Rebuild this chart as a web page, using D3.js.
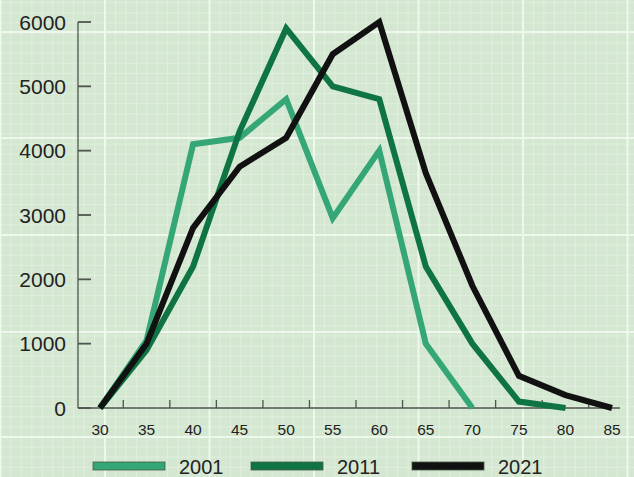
<!DOCTYPE html>
<html>
<head>
<meta charset="utf-8">
<script src="https://cdn.jsdelivr.net/npm/d3@7"></script>
<style>
  body { margin: 0; background: #d4e7d1; }
  svg { display: block; font-family: "Liberation Sans", Arial, sans-serif; }
</style>
</head>
<body>
<svg id="chart" width="634" height="477"></svg>
<script>
// data
let ages = [30, 35, 40, 45, 50, 55, 60, 65, 70, 75, 80, 85];
let y_ticks = [0, 1000, 2000, 3000, 4000, 5000, 6000];
let years = ["2001", "2011", "2021"];
let s2001 = [0, 1050, 4100, 4200, 4800, 2950, 4000, 1000, 0];
let s2011 = [0, 900, 2200, 4300, 5900, 5000, 4800, 2200, 1000, 100, 0];
let s2021 = [0, 1000, 2800, 3750, 4200, 5500, 6000, 3650, 1900, 500, 200, 0];
let colors = ["#35a676", "#0e7443", "#111111"];

let svg = d3.select("#chart");
let W = 634, H = 477;

let x = d3.scaleLinear().domain([30, 85]).range([100, 612]),
    y = d3.scaleLinear().domain([0, 6000]).range([408, 22]);

// graph-paper background
let bg = svg.append("g");
bg.append("rect").attr("width", W).attr("height", H).attr("fill", "#d4e7d1");
for (let gx = 105 - 104.5; gx < W; gx += 10.45) {
    bg.append("line").attr("x1", gx).attr("x2", gx).attr("y1", 0).attr("y2", H)
        .attr("stroke", "#e0eede").attr("stroke-width", 1);
}
for (let gy = 32 - 100; gy < H; gy += 10.1) {
    bg.append("line").attr("y1", gy).attr("y2", gy).attr("x1", 0).attr("x2", W)
        .attr("stroke", "#e0eede").attr("stroke-width", 1);
}
for (let gx = 105 - 104.5; gx < W; gx += 104.5) {
    bg.append("line").attr("x1", gx).attr("x2", gx).attr("y1", 0).attr("y2", H)
        .attr("stroke", "#eef8ec").attr("stroke-width", 2);
}
[32, 138, 235, 332, 437].forEach((gy) => {
    bg.append("line").attr("y1", gy).attr("y2", gy).attr("x1", 0).attr("x2", W)
        .attr("stroke", "#eef8ec").attr("stroke-width", 2);
});

// axes
let axis_color = "#4e554e";
svg.append("line").attr("x1", 78).attr("x2", 78).attr("y1", y(6000)).attr("y2", y(0))
    .attr("stroke", axis_color).attr("stroke-width", 1.3);
svg.append("line").attr("x1", 78).attr("x2", 620).attr("y1", y(0)).attr("y2", y(0))
    .attr("stroke", axis_color).attr("stroke-width", 1.3);

svg.selectAll("line.ytick").data(y_ticks).enter().append("line")
    .attr("x1", 78).attr("x2", 91)
    .attr("y1", (d) => y(d)).attr("y2", (d) => y(d))
    .attr("stroke", axis_color).attr("stroke-width", 1.8);

svg.selectAll("text.ylab").data(y_ticks).enter().append("text")
    .attr("x", 66).attr("y", (d) => y(d)).attr("dy", "0.36em")
    .attr("text-anchor", "end").attr("font-size", 21).attr("fill", "#222")
    .text((d) => d);

// x ticks sit between the labels
svg.selectAll("line.xtick").data(ages.slice(0, -1)).enter().append("line")
    .attr("x1", (d) => x(d + 2.5)).attr("x2", (d) => x(d + 2.5))
    .attr("y1", y(0)).attr("y2", y(0) - 8)
    .attr("stroke", axis_color).attr("stroke-width", 1.3);

svg.selectAll("text.xlab").data(ages).enter().append("text")
    .attr("x", (d) => x(d)).attr("y", 435)
    .attr("text-anchor", "middle").attr("font-size", 15.5).attr("fill", "#222")
    .text((d) => d);

// lines
let line = d3.line().x((d, i) => x(ages[i])).y((d) => y(d));
[s2001, s2011, s2021].forEach((s, i) => {
    svg.append("path").datum(s)
        .attr("d", line)
        .attr("fill", "none")
        .attr("stroke", colors[i])
        .attr("stroke-width", 6)
        .attr("stroke-linejoin", "miter");
});

// legend
let legend_x = [93, 251, 412];
let leg = svg.selectAll("g.leg").data(years).enter().append("g")
    .attr("transform", (d, i) => `translate(${legend_x[i]}, 466)`);
leg.append("rect").attr("x", 0).attr("y", -4).attr("width", 72).attr("height", 8)
    .attr("fill", (d, i) => colors[i]).attr("stroke", "#4a5a4a").attr("stroke-width", 0.8);
leg.append("text").attr("x", 86).attr("y", 8)
    .attr("font-size", 20).attr("fill", "#222")
    .text((d) => d);
</script>
</body>
</html>
